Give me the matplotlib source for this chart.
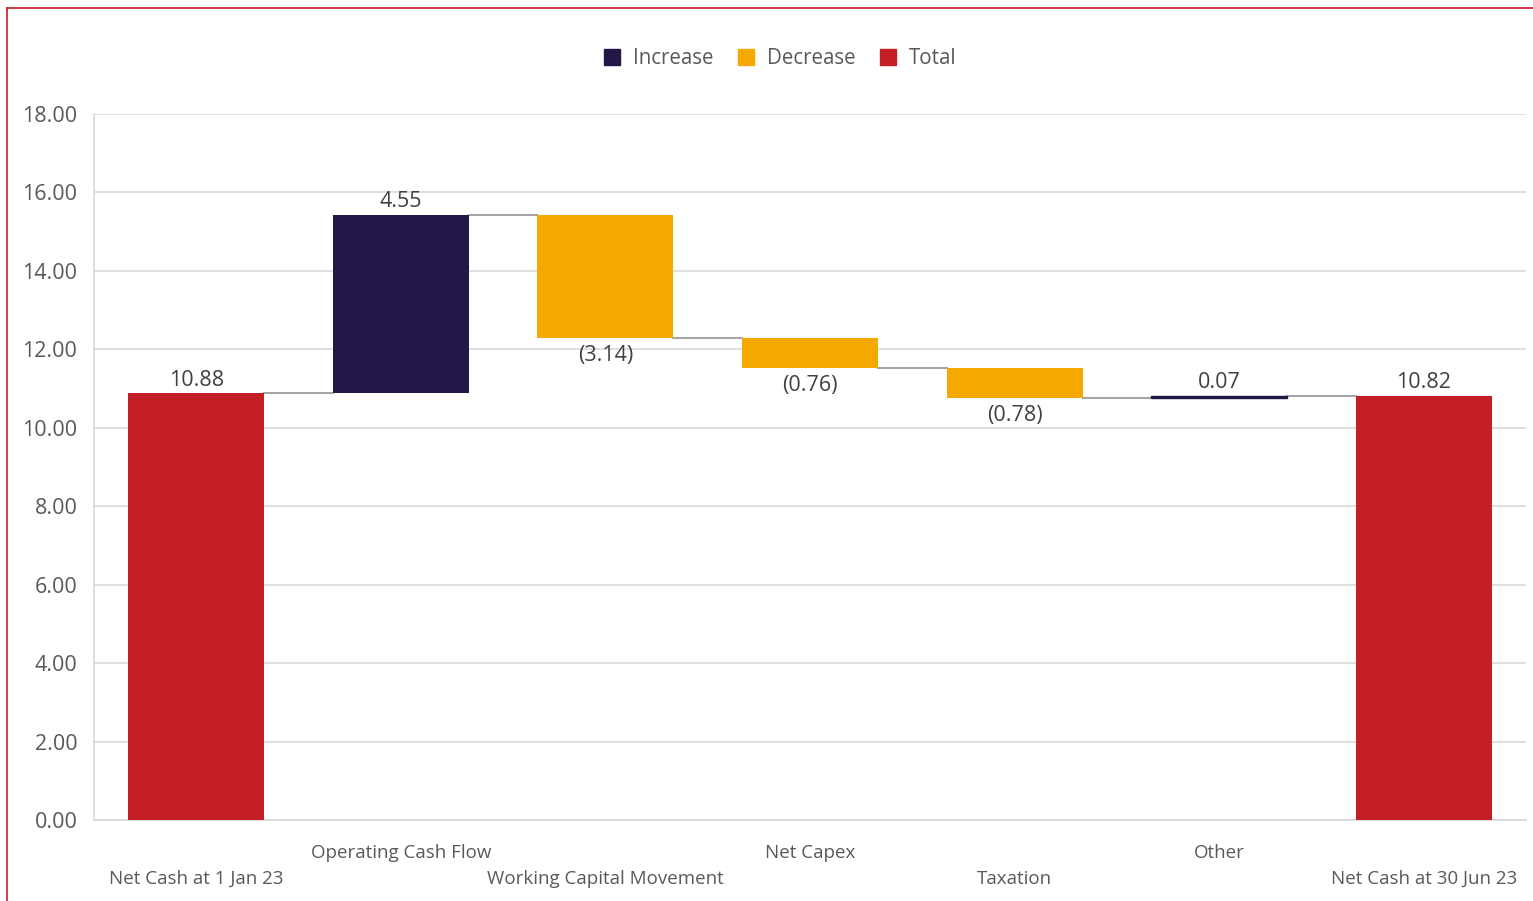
import matplotlib.pyplot as plt
from matplotlib.patches import Patch
from matplotlib.lines import Line2D

plt.rcParams['font.family'] = ['Open Sans', 'DejaVu Sans']

categories = ["Net Cash at 1 Jan 23", "Operating Cash Flow", "Working Capital Movement",
              "Net Capex", "Taxation", "Other", "Net Cash at 30 Jun 23"]
values = [10.88, 4.55, -3.14, -0.76, -0.78, 0.07, 10.82]
kinds = ["total", "inc", "dec", "dec", "dec", "inc", "total"]

colors = {"inc": "#221747", "dec": "#F5A800", "total": "#C41F27"}
text_col = "#595959"
w = 0.665

fig = plt.figure(figsize=(15.33, 9.01), dpi=100)
ax = fig.add_axes([94 / 1533, 1 - 820 / 901, (1526 - 94) / 1533, (820 - 114) / 901])

# running levels
bottoms, tops, ends = [], [], []
level = 0
for v, k in zip(values, kinds):
    if k == "total":
        b, t = 0, v
    else:
        b, t = level, level + v
    level = t
    bottoms.append(min(b, t))
    tops.append(max(b, t))
    ends.append(level)

for i, (v, k) in enumerate(zip(values, kinds)):
    h = tops[i] - bottoms[i]
    ax.bar(i, h, bottom=bottoms[i], width=w, color=colors[k], zorder=3,
           edgecolor=colors[k], linewidth=1 if k == "inc" and h < 0.2 else 0)
    if v < 0:
        ax.text(i, bottoms[i] - 0.18, "({:.2f})".format(-v), ha="center", va="top",
                fontsize=15.5, color="#404040")
    else:
        ax.text(i, tops[i] + 0.06, "{:.2f}".format(v), ha="center", va="bottom",
                fontsize=15.5, color="#404040")

# connectors
for i in range(len(values) - 1):
    ax.plot([i + w / 2, i + 1 - w / 2], [ends[i], ends[i]], color="#A6A6A6",
            linewidth=1.5, zorder=2)

ax.set_xlim(-0.5, len(values) - 0.5)
ax.set_ylim(0, 18)
ax.set_yticks(range(0, 19, 2))
ax.set_yticklabels(["{:.2f}".format(t) for t in range(0, 19, 2)], fontsize=15.5, color=text_col)
ax.yaxis.grid(True, color="#D9D9D9", linewidth=1.2, zorder=0)
ax.tick_params(axis="y", length=0, pad=12)
ax.tick_params(axis="x", length=0)
ax.set_xticks([])
for s in ["top", "right"]:
    ax.spines[s].set_visible(False)
for s in ["left", "bottom"]:
    ax.spines[s].set_color("#D9D9D9")
    ax.spines[s].set_linewidth(1.2)

for i, c in enumerate(categories):
    y = -0.83 if i % 2 == 1 else -1.5
    ax.text(i, y, c, ha="center", va="center", fontsize=13.5, color=text_col, clip_on=False)

handles = [Patch(color=colors["inc"], label="Increase"),
           Patch(color=colors["dec"], label="Decrease"),
           Patch(color=colors["total"], label="Total")]
fig.legend(handles=handles, loc="center", bbox_to_anchor=(780 / 1533, 1 - 59 / 901), ncol=3,
           frameon=False, fontsize=14.8, handlelength=0.8, handleheight=0.8,
           handletextpad=0.6, columnspacing=1.2, labelcolor=text_col)

# red frame
fig.add_artist(Line2D([7 / 1533, 7 / 1533], [0, 1 - 8 / 901], color="#C41F27", linewidth=1.2))
fig.add_artist(Line2D([7 / 1533, 1], [1 - 8 / 901, 1 - 8 / 901], color="#C41F27", linewidth=1.2))

fig.savefig("out.png", dpi=100)
